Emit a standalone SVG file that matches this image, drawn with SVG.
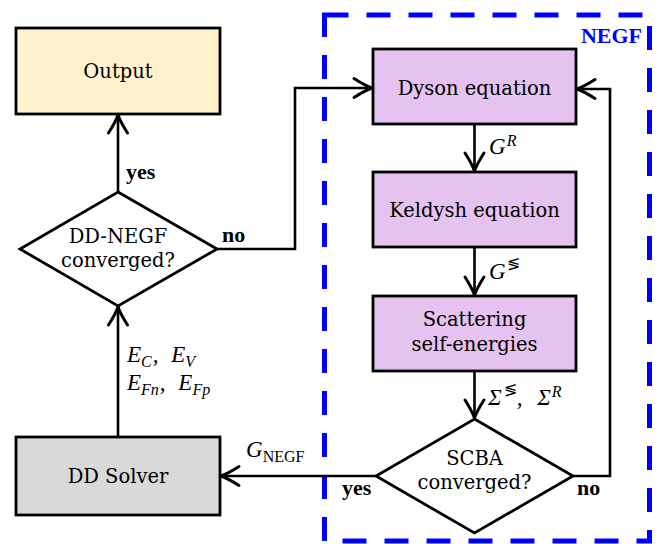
<svg xmlns="http://www.w3.org/2000/svg" width="672" height="544" viewBox="0 0 672 544">
<style>
text{font-family:'Liberation Serif','DejaVu Serif',serif;fill:#000}
.t{font-family:'DejaVu Serif',serif;font-size:19.5px;text-anchor:middle}
.b{font-size:22px;font-weight:bold}
.m{font-size:23px;font-style:italic}
.box{stroke:#000;stroke-width:2.8}
.ln{fill:none;stroke:#000;stroke-width:2.6;marker-end:url(#arr)}
</style>
<defs>
<marker id="arr" viewBox="-20 -11 22 22" refX="0" refY="0" markerWidth="22" markerHeight="22" markerUnits="userSpaceOnUse" orient="auto" overflow="visible">
<path d="M-18,-9.5 Q-7,-2.5 0,0 Q-7,2.5 -18,9.5" fill="none" stroke="#000" stroke-width="3" stroke-linecap="round" stroke-linejoin="round"/>
</marker>
</defs>
<rect width="672" height="544" fill="#fff"/>

<g id="negf-frame">
<rect x="324.5" y="15" width="325" height="526" fill="none" stroke="#0000ff" stroke-width="5" stroke-dasharray="24 18"/>
<text x="642" y="43" class="b" style="fill:#0000ff" text-anchor="end">NEGF</text>
</g>

<g id="connectors">
<line x1="118" y1="192" x2="118" y2="115" class="ln"/>
<line x1="118" y1="437" x2="118" y2="307" class="ln"/>
<polyline points="217,249 295,249 295,88 372,88" class="ln"/>
<line x1="474.5" y1="124" x2="474.5" y2="171" class="ln"/>
<line x1="474.5" y1="247" x2="474.5" y2="295" class="ln"/>
<line x1="474.5" y1="371" x2="474.5" y2="418" class="ln"/>
<polyline points="573,476 610,476 610,89 577,89" class="ln"/>
<line x1="376" y1="476" x2="221" y2="476" class="ln"/>
<text x="126" y="179" class="b">yes</text>
<text x="222" y="242" class="b">no</text>
<text x="342" y="495" class="b">yes</text>
<text x="577" y="495" class="b">no</text>
<text x="489" y="154" class="m">G<tspan font-size="16" dy="-8" dx="1">R</tspan></text>
<text x="489" y="279" class="m">G<tspan font-size="16" dy="-10" dx="1" font-style="normal">≶</tspan></text>
<text x="488" y="405" class="m">Σ<tspan font-size="16" dy="-10" dx="2" font-style="normal">≶</tspan><tspan dy="10">, </tspan><tspan dx="9">Σ</tspan><tspan font-size="16" dy="-8" dx="1">R</tspan></text>
<text x="127" y="362" class="m">E<tspan font-size="16" dy="5">C</tspan><tspan dy="-5" dx="1">, </tspan><tspan dx="7">E</tspan><tspan font-size="16" dy="5">V</tspan></text>
<text x="127" y="390" class="m">E<tspan font-size="16" dy="5">Fn</tspan><tspan dy="-5" dx="1">, </tspan><tspan dx="7">E</tspan><tspan font-size="16" dy="5">Fp</tspan></text>
<text x="246" y="457" class="m">G<tspan font-size="16" dy="5" font-style="normal">NEGF</tspan></text>
</g>

<g id="output">
<rect x="16" y="28" width="204" height="86" fill="#fff2cc" class="box"/>
<text x="118" y="78" class="t">Output</text>
</g>

<g id="dd-negf-converged">
<polygon points="118,192 217,249 118,306 20,249" fill="#fff" class="box"/>
<text x="118" y="243" class="t">DD-NEGF</text>
<text x="118" y="267" class="t">converged?</text>
</g>

<g id="dd-solver">
<rect x="16" y="437" width="204" height="78" fill="#d9d9d9" class="box"/>
<text x="118" y="483" class="t">DD Solver</text>
</g>

<g id="dyson">
<rect x="373" y="49" width="203" height="75" fill="#e5c2ef" class="box"/>
<text x="474.5" y="95" class="t">Dyson equation</text>
</g>

<g id="keldysh">
<rect x="373" y="172" width="203" height="75" fill="#e5c2ef" class="box"/>
<text x="474.5" y="217" class="t">Keldysh equation</text>
</g>

<g id="scattering">
<rect x="373" y="296" width="203" height="75" fill="#e5c2ef" class="box"/>
<text x="474.5" y="326" class="t">Scattering</text>
<text x="474.5" y="351" class="t">self-energies</text>
</g>

<g id="scba-converged">
<polygon points="474.5,419 573,476 474.5,533 376,476" fill="#fff" class="box"/>
<text x="474.5" y="465" class="t">SCBA</text>
<text x="474.5" y="489" class="t">converged?</text>
</g>
</svg>
